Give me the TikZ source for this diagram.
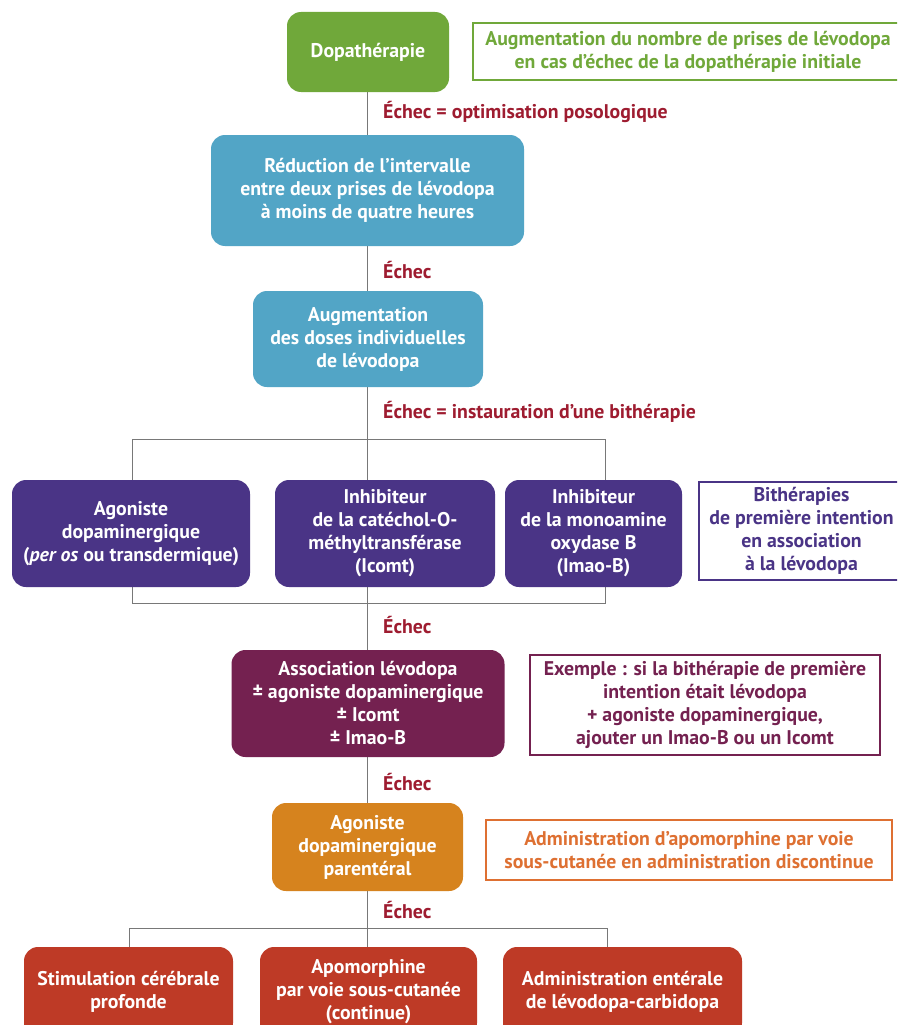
\documentclass[tikz,border=0pt]{standalone}
\usepackage{fontspec}
\setmainfont{PT Sans}
\usepackage{xcolor}
\definecolor{ColG}{RGB}{112,168,58}
\definecolor{ColB}{RGB}{82,165,198}
\definecolor{ColP}{RGB}{74,52,134}
\definecolor{ColM}{RGB}{116,33,80}
\definecolor{ColO}{RGB}{214,131,30}
\definecolor{ColN}{RGB}{222,112,50}
\definecolor{ColR}{RGB}{190,58,38}
\definecolor{ColE}{RGB}{158,28,48}
\definecolor{ColL}{RGB}{120,120,120}
\usepackage{tikz}
\tikzstyle{Box}=[rounded corners=14pt,text=white,align=center,inner sep=0pt,
font=\bfseries\fontsize{19.8}{23}\selectfont]
\tikzstyle{Note}=[draw,line width=1.6pt,fill=white,align=center,inner sep=0pt,
font=\bfseries\fontsize{19.8}{23}\selectfont]
\tikzstyle{Fail}=[text=ColE,anchor=west,inner sep=0pt,
font=\bfseries\fontsize{19.8}{23}\selectfont]
\tikzstyle{Edge}=[draw=ColL,line width=1pt]

\begin{document}
\begin{tikzpicture}[x=1pt,y=-1pt]
            \useasboundingbox[fill=white](0,0)rectangle(897,1025);
            \clip(0,0)rectangle(897,1025);
            \coordinate(t1)at(367,439);
            \coordinate(tl)at(132,439);
            \coordinate(tr)at(605,439);
            \coordinate(b1)at(367,603);
            \coordinate(bl)at(132,603);
            \coordinate(br)at(605,603);
            \coordinate(c2)at(367,928);
            \coordinate(cl)at(129,928);
            \coordinate(cr)at(607,928);
            % connectors first, boxes on top
            \draw[Edge](367,92)--(367,947);
            \draw[Edge](tl|-0,480)--(tl)--(tr)--(tr|-0,480);
            \draw[Edge](bl|-0,587)--(bl)--(br)--(br|-0,587);
            \draw[Edge](cl|-0,947)--(cl)--(cr)--(cr|-0,947);
            %
            \node[Box,fill=ColG,minimum width=162pt,minimum height=80pt]
                (dopa)at(368,52){Dopathérapie};
            \node[Note,draw=ColG,text=ColG,minimum width=430pt,
                minimum height=57pt](ndopa)at(688,51.5)
                {Augmentation du nombre de prises de lévodopa\\
                en cas d’échec de la dopathérapie initiale};
            \node[Fail](e1)at(383,112){Échec = optimisation posologique};
            \node[Box,fill=ColB,minimum width=313pt,minimum height=111pt]
                (reduc)at(367.5,190.5){Réduction de l’intervalle\\
                entre deux prises de lévodopa\\à moins de quatre heures};
            \node[Fail](e2)at(383,270){Échec};
            \node[Box,fill=ColB,minimum width=230pt,minimum height=96pt]
                (augm)at(368,339){Augmentation\\des doses individuelles\\
                de lévodopa};
            \node[Fail](e3)at(383,412){Échec = instauration d’une bithérapie};
            %
            \node[Box,fill=ColP,minimum width=238pt,minimum height=107pt]
                (ago)at(131,533.5){Agoniste\\dopaminergique\\
                (\textit{per os} ou transdermique)};
            \node[Box,fill=ColP,minimum width=220pt,minimum height=107pt]
                (icomt)at(385,533.5){Inhibiteur\\de la catéchol-O-\\
                méthyltransférase\\(Icomt)};
            \node[Box,fill=ColP,minimum width=177pt,minimum height=107pt]
                (imao)at(593.5,533.5){Inhibiteur\\de la monoamine\\
                oxydase B\\(Imao-B)};
            \node[Note,draw=ColP,text=ColP,minimum width=205pt,
                minimum height=98pt](nbith)at(801.5,531)
                {Bithérapies\\de première intention\\en association\\
                à la lévodopa};
            %
            \node[Fail](e4)at(383,625){Échec};
            \node[Box,fill=ColM,minimum width=273pt,minimum height=107pt]
                (assoc)at(368,703.5){Association lévodopa\\
                ± agoniste dopaminergique\\± Icomt\\± Imao-B};
            \node[Note,draw=ColM,text=ColM,minimum width=350pt,
                minimum height=100pt](nex)at(705,705)
                {Exemple : si la bithérapie de première\\
                intention était lévodopa\\+ agoniste dopaminergique,\\
                ajouter un Imao-B ou un Icomt};
            \node[Fail](e5)at(383,782){Échec};
            \node[Box,fill=ColO,minimum width=191pt,minimum height=88pt]
                (paren)at(367.5,847){Agoniste\\dopaminergique\\parentéral};
            \node[Note,draw=ColN,text=ColN,minimum width=406pt,
                minimum height=60pt](napo)at(689,850)
                {Administration d’apomorphine par voie\\
                sous-cutanée en administration discontinue};
            \node[Fail](e6)at(383,910){Échec};
            %
            \node[Box,fill=ColR,minimum width=209pt,minimum height=90pt]
                (stim)at(128.5,992){Stimulation cérébrale\\profonde};
            \node[Box,fill=ColR,minimum width=217pt,minimum height=90pt]
                (apo)at(368.5,992){Apomorphine\\par voie sous-cutanée\\
                (continue)};
            \node[Box,fill=ColR,minimum width=239pt,minimum height=90pt]
                (ent)at(622.5,992){Administration entérale\\
                de lévodopa-carbidopa};
        \end{tikzpicture}
\end{document}
